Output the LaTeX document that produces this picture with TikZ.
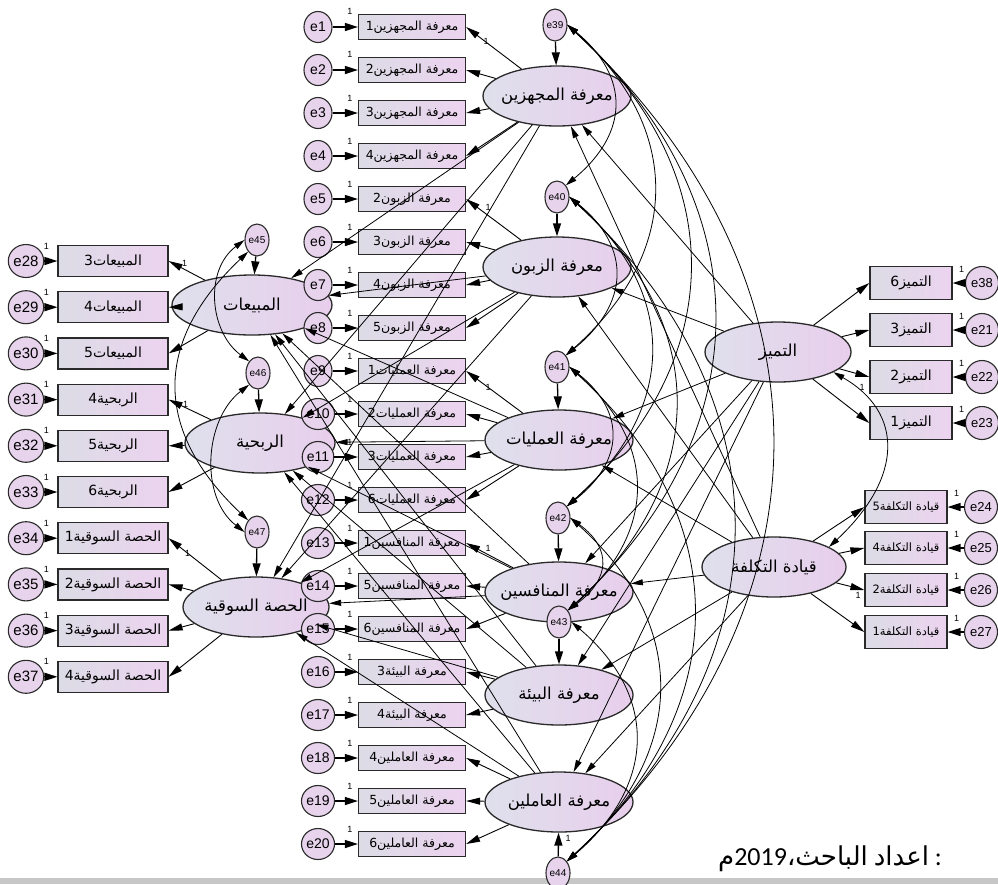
\documentclass[tikz,border=0pt]{standalone}
\usepackage{fontspec}
\setmainfont{Liberation Sans}
\newfontfamily\arfont[Script=Arabic]{DejaVu Sans}
\newfontfamily\capfont{Carlito}
\TeXXeTstate=1
\usetikzlibrary{shapes.geometric,arrows.meta,calc}
\newcommand{\rtl}[1]{{\arfont\beginR #1\endR}}

\definecolor{edgeclr}{HTML}{2A2A2A}
\definecolor{boxL}{HTML}{DCDCE6}
\definecolor{boxR}{HTML}{ECD3EF}
\definecolor{latL}{HTML}{DFE0EC}
\definecolor{latR}{HTML}{E8CEEC}
\definecolor{errfill}{HTML}{E7D3EC}

\tikzset{
  ind/.style={draw=edgeclr, line width=1.2pt, left color=boxL, right color=boxR,
    minimum width=107pt, minimum height=25pt, inner sep=0pt,
    font=\fontsize{12.5}{12.5}\selectfont},
  indL/.style={ind, minimum width=110pt, minimum height=31pt,
    font=\fontsize{14}{14}\selectfont},
  indR/.style={ind, minimum width=82pt, minimum height=33pt,
    font=\fontsize{14}{14}\selectfont},
  indQ/.style={ind, minimum width=82pt, minimum height=33pt,
    font=\fontsize{11.5}{11.5}\selectfont},
  errc/.style={ellipse, draw=edgeclr, line width=1.1pt, fill=errfill,
    minimum width=28pt, minimum height=31pt, inner sep=0pt,
    font=\fontsize{14}{14}\selectfont},
  errL/.style={errc, minimum width=33pt, minimum height=33pt,
    font=\fontsize{15}{15}\selectfont},
  errR/.style={errL, font=\fontsize{13}{13}\selectfont},
  dist/.style={errc, minimum width=24pt, minimum height=32pt,
    font=\fontsize{10}{10}\selectfont},
  lat/.style={ellipse, draw=edgeclr, line width=1.3pt, left color=latL,
    right color=latR, minimum width=148pt, minimum height=60pt,
    inner xsep=-14pt, inner ysep=-4pt,
    font=\fontsize{16.5}{16.5}\selectfont},
  errarrow/.style={line width=1.3pt, -{Triangle[length=13pt,width=8pt]}},
  load/.style={line width=0.9pt, -{Triangle[length=14pt,width=7pt]}},
  reg/.style={line width=0.8pt, -{Triangle[length=12pt,width=6pt]}},
  cov/.style={line width=0.8pt,
    {Triangle[length=11pt,width=6pt]}-{Triangle[length=11pt,width=6pt]}},
  one/.style={font=\fontsize{9}{9}\selectfont, inner sep=0pt},
}

\begin{document}
\begin{tikzpicture}[x=1pt,y=-1pt]
\useasboundingbox (0,0) rectangle (998,884);
\fill[white] (0,0) rectangle (998,884);
\fill[black!22] (0,878) rectangle (998,884);

% ---------- latent variables ----------
\node[lat, minimum width=160pt] (S1) at (252,305) {\rtl{المبيعات}};
\node[lat, minimum width=150pt] (S2) at (260,443) {\rtl{الربحية}};
\node[lat, minimum width=146pt] (S3) at (256,607) {\rtl{الحصة السوقية}};

\node[lat] (L1) at (557,96)  {\rtl{معرفة المجهزين}};
\node[lat] (L2) at (557,267) {\rtl{معرفة الزبون}};
\node[lat] (L3) at (559,440) {\rtl{معرفة العمليات}};
\node[lat] (L4) at (559,592) {\rtl{معرفة المنافسين}};
\node[lat] (L5) at (559,695) {\rtl{معرفة البيئة}};
\node[lat] (L6) at (559,802) {\rtl{معرفة العاملين}};

\node[lat, minimum width=146pt] (T) at (778,352) {\rtl{التميز}};
\node[lat, minimum width=144pt] (Q) at (774,567) {\rtl{قيادة التكلفة}};

% ---------- middle indicators ----------
\foreach \i/\t in {1/معرفة المجهزين1, 2/معرفة المجهزين2, 3/معرفة المجهزين3,
  4/معرفة المجهزين4, 5/معرفة الزبون2, 6/معرفة الزبون3, 7/معرفة الزبون4,
  8/معرفة الزبون5, 9/معرفة العمليات1, 10/معرفة العمليات2, 11/معرفة العمليات3,
  12/معرفة العمليات6, 13/معرفة المنافسين1, 14/معرفة المنافسين5,
  15/معرفة المنافسين6, 16/معرفة البيئة3, 17/معرفة البيئة4,
  18/معرفة العاملين4, 19/معرفة العاملين5, 20/معرفة العاملين6}{
  \pgfmathsetmacro\yy{27+43*(\i-1)}
  \node[ind] (mb\i) at (412,\yy) {\rtl{\t}};
  \node[errc] (me\i) at (318,\yy) {e\i};
  \draw[errarrow] (me\i) -- (mb\i);
  \node[one] at ($(mb\i.north west)+(-8,-2)$) {1};
}

% ---------- left indicators ----------
\foreach \e/\t in {28/المبيعات3, 29/المبيعات4, 30/المبيعات5, 31/الربحية4,
  32/الربحية5, 33/الربحية6, 34/الحصة السوقية1, 35/الحصة السوقية2,
  36/الحصة السوقية3, 37/الحصة السوقية4}{
  \pgfmathsetmacro\yy{261+46.2*(\e-28)}
  \node[indL] (lb\e) at (113,\yy) {\rtl{\t}};
  \node[errL] (le\e) at (26,\yy) {e\e};
  \draw[errarrow] (le\e) -- (lb\e);
  \node[one] at ($(lb\e.north west)+(-11,1)$) {1};
}

% ---------- right indicators ----------
\foreach \e/\t/\yy in {38/التميز6/283, 21/التميز3/330, 22/التميز2/377,
  23/التميز1/423}{
  \node[indR] (rb\e) at (911,\yy) {\rtl{\t}};
  \node[errR] (re\e) at (982,\yy) {e\e};
  \draw[errarrow] (re\e) -- (rb\e);
  \node[one] at ($(rb\e.north east)+(9,3)$) {1};
}
\foreach \e/\t/\yy in {24/قيادة التكلفة5/507, 25/قيادة التكلفة4/548,
  26/قيادة التكلفة2/590, 27/قيادة التكلفة1/632}{
  \node[indQ] (rb\e) at (906,\yy) {\rtl{\t}};
  \node[errR] (re\e) at (981,\yy) {e\e};
  \draw[errarrow] (re\e) -- (rb\e);
  \node[one] at ($(rb\e.north east)+(9,3)$) {1};
}

% ---------- disturbances ----------
\node[dist] (d39) at (555,25)  {e39};
\node[dist] (d40) at (557,197) {e40};
\node[dist] (d41) at (557,367) {e41};
\node[dist] (d42) at (558,518) {e42};
\node[dist] (d43) at (559,622) {e43};
\node[dist] (d44) at (558,873) {e44};
\node[dist] (d45) at (257,240) {e45};
\node[dist] (d46) at (258,373) {e46};
\node[dist] (d47) at (257,532) {e47};

\draw[errarrow] (d39) -- (L1);
\draw[errarrow] (d40) -- (L2);
\draw[errarrow] (d41) -- (L3);
\draw[errarrow] (d42) -- (L4);
\draw[errarrow] (d43) -- (L5);
\draw[errarrow] (d44) -- (L6);
\draw[errarrow] (d45) -- (S1);
\draw[errarrow] (d46) -- (S2);
\draw[errarrow] (d47) -- (S3);
\node[one] at (568,838) {1};

% ---------- loadings ----------
\foreach \l/\a/\b in {L1/1/4, L2/5/8, L3/9/12, L4/13/15, L5/16/17, L6/18/20}{
  \foreach \k in {\a,...,\b}{ \draw[load] (\l) -- (mb\k.east); }
}
\foreach \l/\a/\b in {S1/28/30, S2/31/33, S3/34/37}{
  \foreach \k in {\a,...,\b}{ \draw[load] (\l) -- (lb\k.east); }
}
\foreach \k in {38,21,22,23}{ \draw[load] (T) -- (rb\k.west); }
\foreach \k in {24,25,26,27}{ \draw[load] (Q) -- (rb\k.west); }

\node[one] at ($(mb1.east)+(20,14)$) {1};
\node[one] at ($(mb5.east)+(22,8)$) {1};
\node[one] at ($(mb9.east)+(22,16)$) {1};
\node[one] at ($(mb13.east)+(22,5)$) {1};
\node[one] at ($(lb28.east)+(16,2)$) {1};
\node[one] at ($(lb31.east)+(17,5)$) {1};
\node[one] at ($(lb34.east)+(19,15)$) {1};
\node[one] at (862,387) {1};
\node[one] at (858,595) {1};

% ---------- structural paths ----------
\foreach \i in {1,...,6}{
  \draw[reg] (T) -- (L\i);
  \draw[reg] (Q) -- (L\i);
  \foreach \j in {1,2,3}{ \draw[reg] (L\i) -- (S\j); }
}

% ---------- covariances among residuals (right) ----------
\draw[cov] (d39.east) .. controls +(63,52)   and +(63,-52)   .. (d40.north east);
\draw[cov] (d39.east) .. controls +(116,103) and +(116,-103) .. (d41.north east);
\draw[cov] (d39.east) .. controls +(163,148) and +(163,-148) .. (d42.north east);
\draw[cov] (d39.east) .. controls +(195,179) and +(195,-179) .. (d43.north east);
\draw[cov] (d39.east) .. controls +(273,254) and +(273,-254) .. (d44.north east);
\draw[cov] (d40.east) .. controls +(63,51)   and +(63,-51)   .. (d41.north east);
\draw[cov] (d40.east) .. controls +(110,96)  and +(110,-96)  .. (d42.north east);
\draw[cov] (d40.east) .. controls +(142,128) and +(142,-128) .. (d43.north east);
\draw[cov] (d40.east) .. controls +(220,203) and +(220,-203) .. (d44.north east);
\draw[cov] (d41.east) .. controls +(57,45)   and +(57,-45)   .. (d42.north east);
\draw[cov] (d41.east) .. controls +(89,77)   and +(89,-77)   .. (d43.north east);
\draw[cov] (d41.east) .. controls +(167,152) and +(167,-152) .. (d44.north east);
\draw[cov] (d42.east) .. controls +(42,31)   and +(42,-31)   .. (d43.north east);
\draw[cov] (d42.east) .. controls +(120,107) and +(120,-107) .. (d44.north east);
\draw[cov] (d43.east) .. controls +(88,75)   and +(88,-75)   .. (d44.north east);

% ---------- covariance between exogenous factors ----------
\draw[cov] (T.-20) .. controls +(70,40) and +(75,-70) .. (Q.20);

% ---------- covariances among residuals (left) ----------
\draw[cov] (d45.west) .. controls +(-40,30) and +(-40,-30) .. (d46.north west);
\draw[cov] (d45.south west) .. controls +(-95,90) and +(-95,-90) .. (d47.north west);
\draw[cov] (d46.south west) .. controls +(-45,35) and +(-45,-35) .. (d47.west);

% ---------- source line (set right to left, pieces placed in visual order) ----------
\node[anchor=base east, inner sep=0pt] (cap) at (942,865)
  {\capfont\fontsize{26}{26}\selectfont \hbox{\arfont م}2019\hbox{\arfont ،}\hbox{\arfont الباحث}\ \hbox{\arfont اعداد}\ :};
\end{tikzpicture}
\end{document}
